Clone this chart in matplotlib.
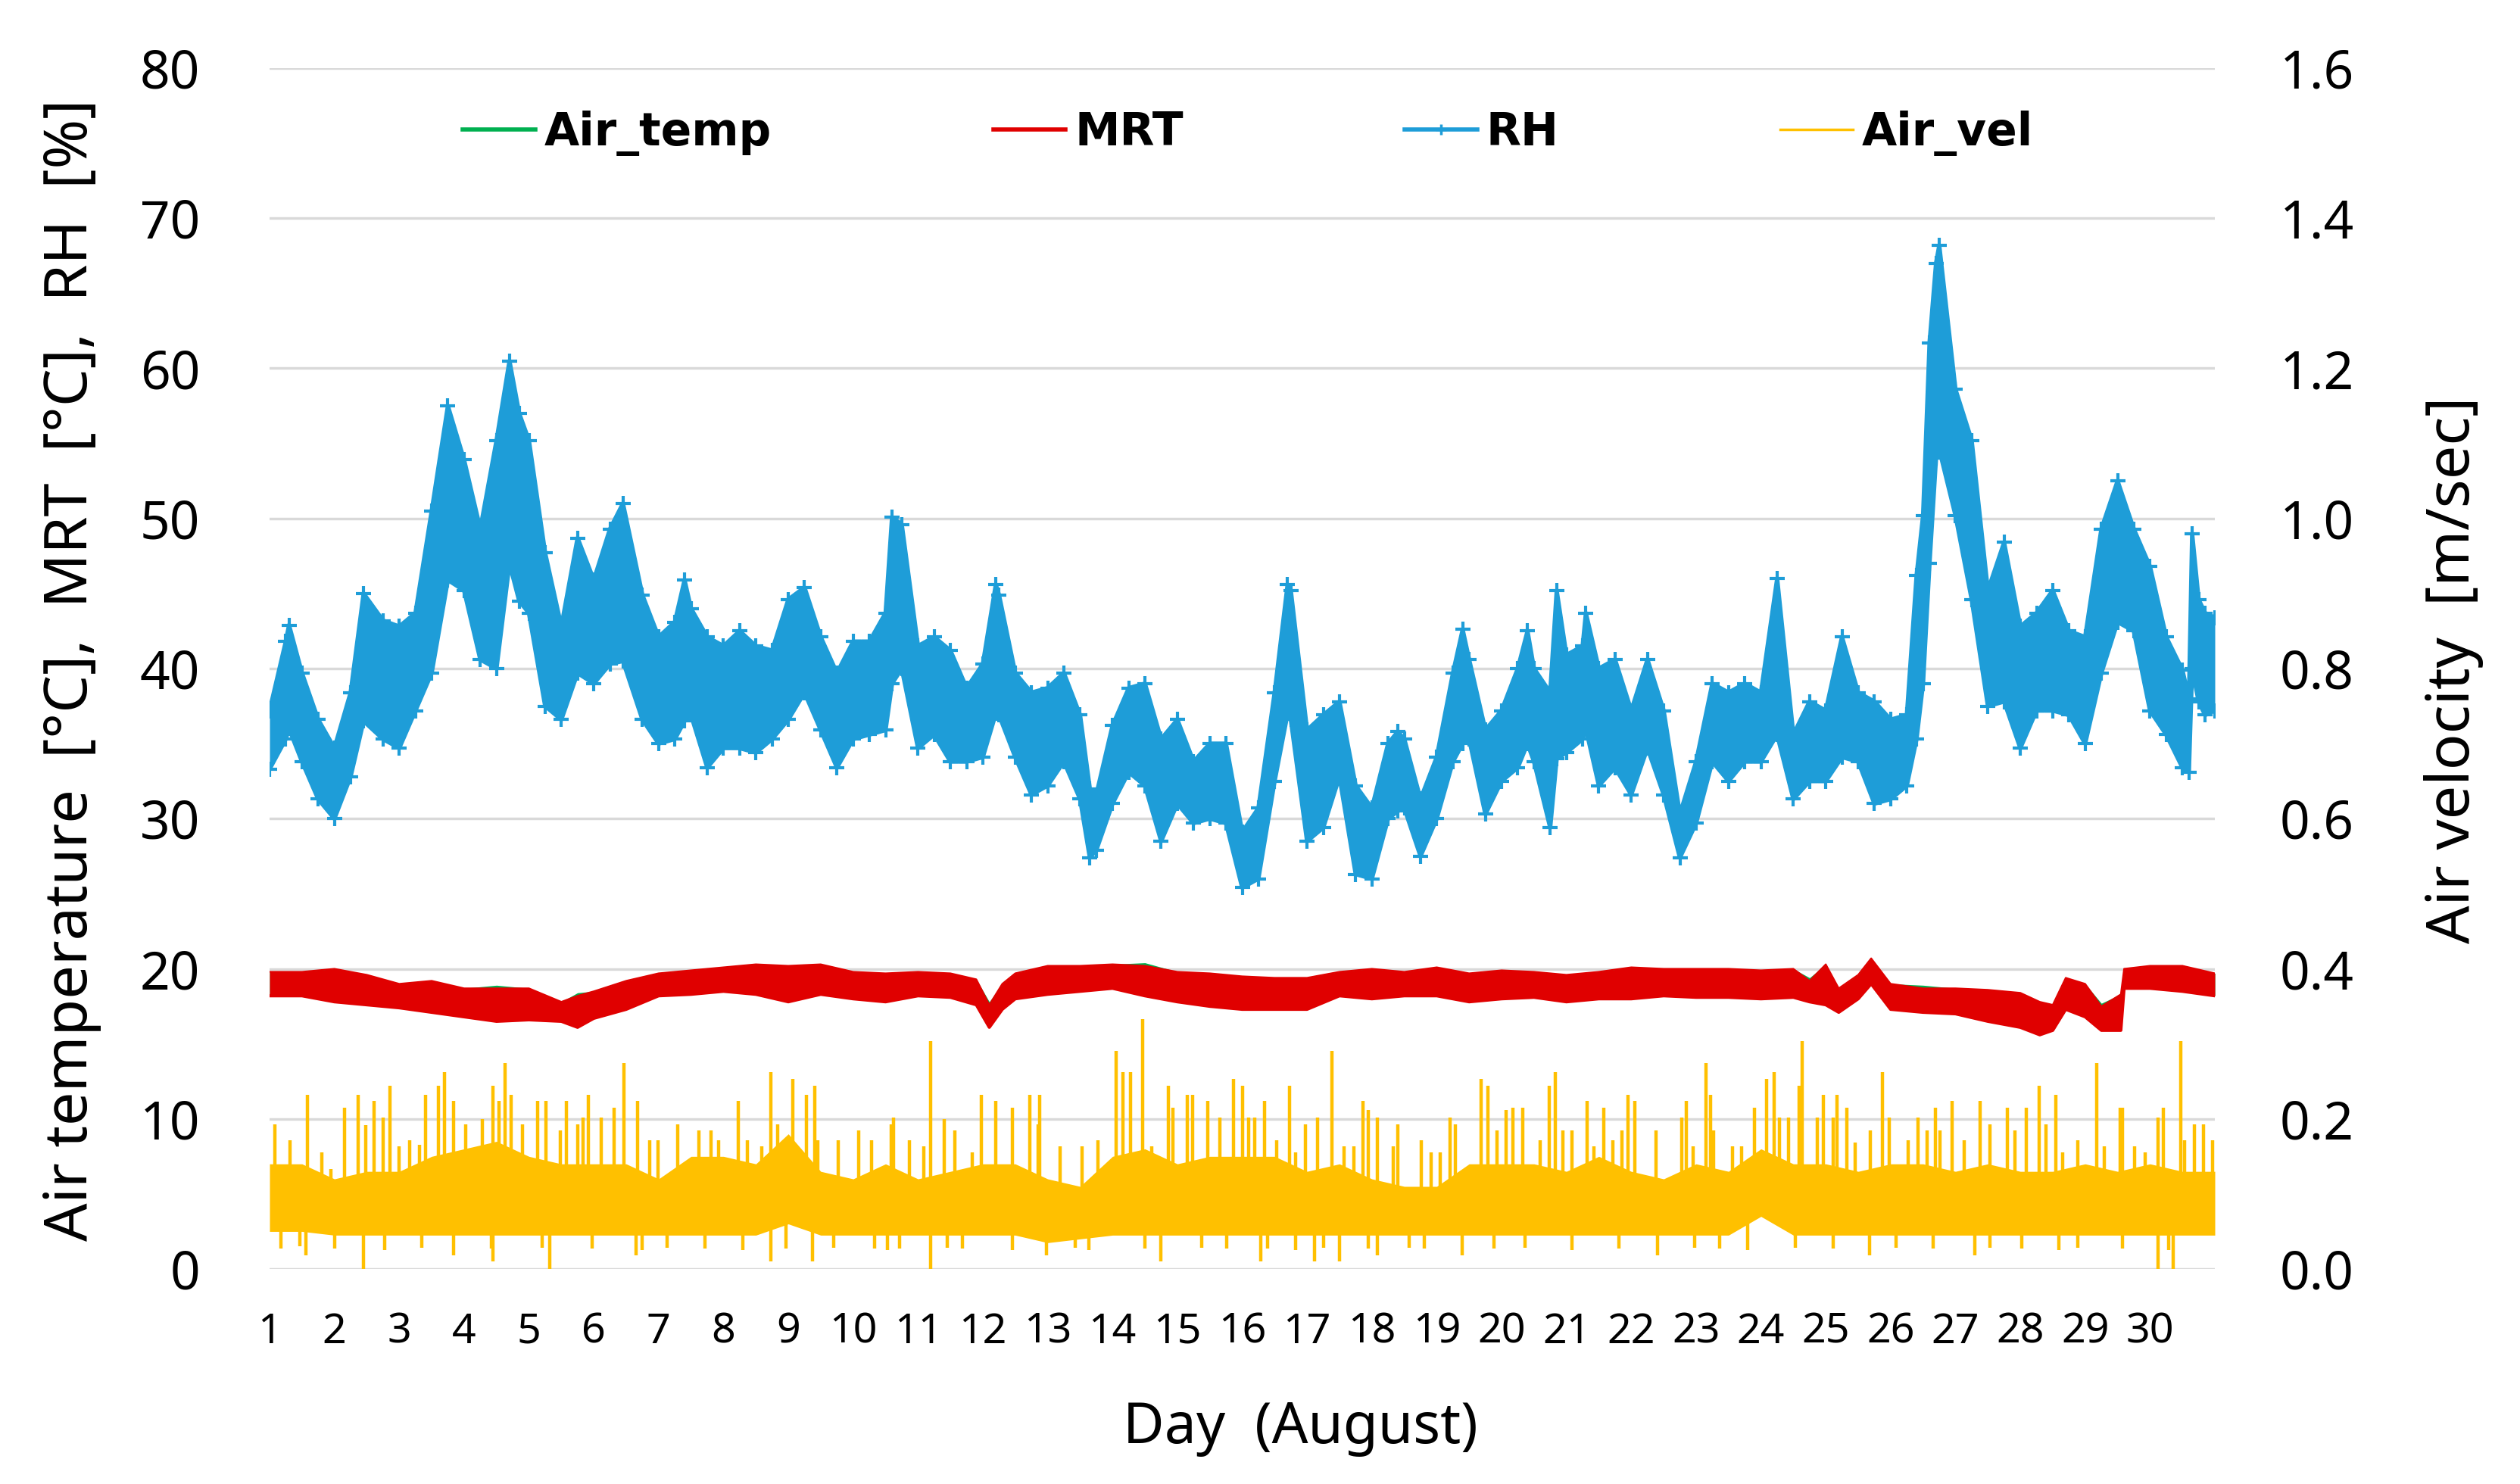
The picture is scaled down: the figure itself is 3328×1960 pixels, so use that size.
import numpy as np
import matplotlib
matplotlib.use('Agg')
import matplotlib.pyplot as plt
from matplotlib.lines import Line2D

# 색상 (Excel 기본 팔레트 비슷하게)
C_TEMP = '#00B050'
C_MRT = '#E00000'
C_RH = '#1E9DD8'
C_VEL = '#FFC000'
C_GRID = '#D9D9D9'

# ---- RH [%] : 상단/하단 포락선 ----
rh_day = [1.0, 1.25, 1.3, 1.5, 1.75, 2.0, 2.25, 2.45, 2.75, 3.0, 3.25, 3.5, 3.75, 4.0,
          4.25, 4.5, 4.7, 4.85, 5.0, 5.25, 5.5, 5.75, 6.0, 6.25, 6.45, 6.75, 7.0, 7.25,
          7.4, 7.5, 7.75, 8.0, 8.25, 8.5, 8.75, 9.0, 9.25, 9.5, 9.75, 10.0, 10.25, 10.5,
          10.6, 10.75, 11.0, 11.25, 11.5, 11.75, 12.0, 12.2, 12.25, 12.5, 12.75, 13.0,
          13.25, 13.5, 13.65, 13.75, 14.0, 14.25, 14.5, 14.75, 15.0, 15.25, 15.5, 15.75,
          16.0, 16.25, 16.5, 16.7, 16.75, 17.0, 17.25, 17.5, 17.75, 18.0, 18.25, 18.4,
          18.5, 18.75, 19.0, 19.25, 19.4, 19.5, 19.75, 20.0, 20.25, 20.4, 20.5, 20.75,
          20.85, 21.0, 21.25, 21.3, 21.5, 21.75, 22.0, 22.25, 22.5, 22.75, 23.0, 23.25,
          23.5, 23.75, 24.0, 24.25, 24.5, 24.75, 25.0, 25.25, 25.5, 25.75, 26.0, 26.25,
          26.4, 26.5, 26.6, 26.7, 26.75, 27.0, 27.25, 27.5, 27.75, 28.0, 28.25, 28.5,
          28.75, 29.0, 29.25, 29.5, 29.75, 30.0, 30.25, 30.5, 30.6, 30.65, 30.75, 30.85,
          31.0]
rh_hi = [37.2, 41.8, 42.9, 39.7, 36.6, 34.7, 38.4, 45.0, 43.2, 42.8, 43.7, 50.5, 57.5, 53.9,
         49.3, 55.2, 60.5, 57.0, 55.2, 47.7, 42.8, 48.7, 45.9, 49.3, 51.0, 44.9, 42.1, 43.1,
         45.9, 44.0, 42.1, 41.5, 42.5, 41.5, 41.2, 44.6, 45.4, 42.1, 39.7, 41.8, 41.8, 43.7,
         50.1, 49.6, 41.5, 42.1, 41.2, 38.7, 40.3, 45.6, 44.9, 39.7, 38.4, 38.7,
         39.7, 36.9, 32.0, 31.6, 36.2, 38.7, 39.0, 35.3, 36.6, 33.8, 35.0, 35.0,
         29.1, 30.7, 38.4, 45.6, 45.2, 35.9, 36.9, 37.8, 32.2, 30.7, 35.0, 35.8,
         35.3, 31.3, 34.1, 39.7, 42.6, 40.6, 35.9, 37.2, 40.0, 42.5, 40.0, 38.4,
         45.2, 40.9, 41.5, 43.7, 40.0, 40.6, 37.2, 40.6, 37.2, 30.3, 33.8, 39.0,
         38.4, 39.0, 38.4, 46.0, 35.6, 37.8, 37.2, 42.1, 38.4, 37.8, 36.6, 36.9,
         46.2, 50.2, 61.7, 67.0, 68.2, 58.6, 55.2, 45.2, 48.4, 42.8, 43.7, 45.2,
         42.5, 42.1, 49.3, 52.5, 49.3, 46.8, 42.1, 39.9, 38.0, 49.0, 44.6, 43.7,
         43.4]
rh_lo = [33.3, 35.3, 36.0, 33.8, 31.3, 30.0, 32.8, 36.5, 35.3, 34.7, 37.2, 39.7, 45.9, 45.2,
         40.6, 40.0, 47.0, 44.5, 43.7, 37.5, 36.6, 39.7, 39.0, 40.3, 40.5, 36.6, 35.0, 35.3,
         36.5, 36.9, 33.4, 34.7, 34.7, 34.4, 35.3, 36.6, 38.4, 35.9, 33.4, 35.3, 35.6, 35.9,
         39.0, 40.0, 34.7, 35.6, 33.8, 33.8, 34.1, 37.0, 36.9, 34.1, 31.6, 32.2,
         33.8, 31.3, 27.4, 27.9, 31.0, 33.1, 32.2, 28.5, 31.0, 29.7, 30.0, 29.7,
         25.4, 26.0, 32.5, 37.0, 36.6, 28.5, 29.4, 32.8, 26.3, 26.0, 30.0, 30.5,
         30.7, 27.5, 30.0, 33.8, 35.0, 35.3, 30.3, 32.5, 33.4, 35.0, 33.8, 29.4,
         34.0, 34.4, 35.3, 36.0, 32.2, 33.4, 31.6, 34.7, 31.6, 27.4, 29.7, 33.8,
         32.5, 33.8, 33.8, 35.6, 31.3, 32.5, 32.5, 34.1, 33.8, 31.0, 31.3, 32.2,
         35.3, 39.0, 47.0, 54.0, 54.6, 50.2, 44.6, 37.5, 37.8, 34.7, 37.2, 37.2,
         36.9, 35.0, 39.7, 43.1, 42.5, 37.2, 35.6, 33.4, 33.1, 40.0, 37.8, 36.9,
         37.2]

# ---- MRT / Air_temp [°C] ----
mrt_day = [1.0, 1.5, 2.0, 2.5, 3.0, 3.5, 4.0, 4.5, 5.0, 5.5, 5.75, 6.0, 6.5, 7.0, 7.5, 8.0,
           8.5, 9.0, 9.5, 10.0, 10.5, 11.0, 11.5, 11.9, 12.1, 12.3, 12.5, 13.0, 13.5, 14.0,
           14.5, 15.0, 15.5, 16.0, 16.5, 17.0, 17.5, 18.0, 18.5, 19.0, 19.5, 20.0, 20.5,
           21.0, 21.5, 22.0, 22.5, 23.0, 23.5, 24.0, 24.5, 24.75, 25.0, 25.2, 25.5, 25.7,
           26.0, 26.5, 27.0, 27.5, 28.0, 28.3, 28.5, 28.7, 29.0, 29.25, 29.55, 29.6, 30.0,
           30.5, 31.0]
mrt_hi = [19.8, 19.8, 20.0, 19.6, 19.0, 19.2, 18.7, 18.7, 18.7, 17.8, 18.2, 18.5, 19.2, 19.7,
          19.9, 20.1, 20.3, 20.2, 20.3, 19.8, 19.7, 19.8, 19.7, 19.3, 17.6, 19.0, 19.7, 20.2,
          20.2, 20.3, 20.2, 19.8, 19.7, 19.5, 19.4, 19.4, 19.8, 20.0, 19.8, 20.1, 19.7,
          19.9, 19.8, 19.6, 19.8, 20.1, 20.0, 20.0, 20.0, 19.9, 20.0, 19.2, 20.3, 18.7,
          19.6, 20.7, 19.0, 18.7, 18.7, 18.6, 18.4, 17.8, 17.6, 19.4, 19.0, 17.5, 18.3,
          20.0, 20.2, 20.2, 19.7]
mrt_lo = [18.2, 18.2, 17.8, 17.6, 17.4, 17.1, 16.8, 16.5, 16.6, 16.5, 16.1, 16.7, 17.3, 18.2,
          18.3, 18.5, 18.3, 17.8, 18.3, 18.0, 17.8, 18.2, 18.1, 17.6, 16.1, 17.3, 18.0, 18.3,
          18.5, 18.7, 18.2, 17.8, 17.5, 17.3, 17.3, 17.3, 18.2, 18.0, 18.2, 18.2, 17.8,
          18.0, 18.1, 17.8, 18.0, 18.0, 18.2, 18.1, 18.1, 18.0, 18.1, 17.8, 17.6, 17.1,
          18.0, 19.0, 17.3, 17.1, 17.0, 16.5, 16.1, 15.6, 15.9, 17.3, 16.8, 15.9, 15.9,
          18.7, 18.7, 18.5, 18.2]
# 기온은 MRT와 거의 겹침 - 몇 군데만 살짝 위로 보임
temp_hi = [19.8, 19.8, 20.0, 19.6, 19.0, 19.2, 18.7, 18.9, 18.7, 17.8, 18.4, 18.5, 19.2, 19.7,
           19.9, 20.1, 20.3, 20.2, 20.3, 19.8, 19.7, 19.8, 19.7, 19.3, 17.8, 19.0, 19.7, 20.2,
           20.2, 20.3, 20.4, 19.8, 19.7, 19.5, 19.4, 19.4, 19.8, 20.0, 19.8, 20.1, 19.7,
           19.9, 19.8, 19.6, 19.8, 20.1, 20.0, 20.0, 20.0, 19.9, 20.0, 19.4, 20.3, 18.7,
           19.6, 20.7, 19.0, 18.9, 18.7, 18.6, 18.4, 17.8, 17.6, 19.4, 19.0, 17.7, 18.3,
           20.0, 20.2, 20.2, 19.7]
temp_lo = mrt_lo

# ---- Air_vel [m/sec] : 본체 범위 + 튀는 값 ----
vel_day = [1.0, 1.5, 2.0, 2.5, 3.0, 3.5, 4.0, 4.5, 5.0, 5.5, 6.0, 6.5, 7.0, 7.5, 8.0, 8.5,
           9.0, 9.5, 10.0, 10.5, 11.0, 11.5, 12.0, 12.5, 13.0, 13.5, 14.0, 14.5, 15.0, 15.5,
           16.0, 16.5, 17.0, 17.5, 18.0, 18.5, 19.0, 19.5, 20.0, 20.5, 21.0, 21.5, 22.0,
           22.5, 23.0, 23.5, 24.0, 24.5, 25.0, 25.5, 26.0, 26.5, 27.0, 27.5, 28.0, 28.5,
           29.0, 29.5, 30.0, 30.5, 31.0]
vel_hi = [0.14, 0.14, 0.12, 0.13, 0.13, 0.15, 0.16, 0.17, 0.15, 0.14, 0.14, 0.14, 0.12, 0.15,
          0.15, 0.14, 0.18, 0.13, 0.12, 0.14, 0.12, 0.13, 0.14, 0.14, 0.12, 0.11, 0.15, 0.16,
          0.14, 0.15, 0.15, 0.15, 0.13, 0.14, 0.12, 0.11, 0.11, 0.14, 0.14, 0.14, 0.13, 0.15,
          0.13, 0.12, 0.14, 0.13, 0.16, 0.14, 0.14, 0.13, 0.14, 0.14, 0.13, 0.14, 0.13, 0.13,
          0.14, 0.13, 0.14, 0.13, 0.13]
vel_lo = [0.05, 0.05, 0.045, 0.045, 0.045, 0.045, 0.045, 0.045, 0.045, 0.045, 0.045, 0.045,
          0.045, 0.045, 0.045, 0.045, 0.06, 0.045, 0.045, 0.045, 0.045, 0.045, 0.045, 0.045,
          0.035, 0.04, 0.045, 0.045, 0.045, 0.045, 0.045, 0.045, 0.045, 0.045, 0.045, 0.045,
          0.045, 0.045, 0.045, 0.045, 0.045, 0.045, 0.045, 0.045, 0.045, 0.045, 0.07, 0.045,
          0.045, 0.045, 0.045, 0.045, 0.045, 0.045, 0.045, 0.045, 0.045, 0.045, 0.045, 0.045,
          0.045]

peak_day = [1.08, 1.32, 1.58, 1.80, 1.95, 2.16, 2.37, 2.48, 2.61, 2.75, 2.86, 3.00, 3.16, 3.31,
            3.40, 3.60, 3.70, 3.84, 4.03, 4.28, 4.44, 4.54, 4.63, 4.73, 4.90, 5.13, 5.26, 5.49,
            5.58, 5.75, 5.84, 5.92, 6.12, 6.31, 6.47, 6.68, 6.86, 6.99, 7.30, 7.62, 7.81, 7.93,
            8.23, 8.37, 8.59, 8.73, 8.83, 9.07, 9.28, 9.41, 9.46, 9.77, 10.09, 10.28, 10.59,
            10.62, 10.87, 11.09, 11.20, 11.40, 11.57, 11.84, 11.98, 12.20, 12.46, 12.73, 12.85,
            12.88, 13.19, 13.53, 13.78, 14.06, 14.16, 14.28, 14.46, 14.60, 14.86, 14.93, 15.15,
            15.23, 15.47, 15.66, 15.86, 16.0, 16.10, 16.19, 16.34, 16.53, 16.73, 16.82, 16.97,
            17.16, 17.38, 17.57, 17.72, 17.86, 17.94, 18.08, 18.33, 18.40, 18.76, 18.91, 19.05,
            19.20, 19.29, 19.69, 19.79, 19.93, 20.07, 20.18, 20.33, 20.60, 20.73, 20.83, 20.94,
            21.09, 21.32, 21.43, 21.58, 21.72, 21.86, 21.95, 22.06, 22.38, 22.78, 22.85, 22.95,
            23.15, 23.22, 23.27, 23.56, 23.70, 23.90, 24.09, 24.20, 24.29, 24.43, 24.59, 24.63,
            24.87, 24.96, 25.11, 25.17, 25.33, 25.45, 25.69, 25.87, 25.98, 26.27, 26.42, 26.56,
            26.69, 26.76, 26.95, 27.14, 27.38, 27.53, 27.80, 27.92, 28.09, 28.29, 28.40, 28.55,
            28.65, 28.89, 29.18, 29.30, 29.54, 29.57, 29.76, 29.93, 30.13, 30.21, 30.47, 30.53,
            30.68, 30.83, 30.97]
peak_vel = [0.193, 0.171, 0.232, 0.155, 0.133, 0.215, 0.232, 0.192, 0.224, 0.202, 0.244, 0.163,
            0.171, 0.165, 0.232, 0.244, 0.262, 0.224, 0.193, 0.200, 0.244, 0.224, 0.274, 0.232,
            0.193, 0.224, 0.224, 0.185, 0.224, 0.193, 0.202, 0.232, 0.202, 0.215, 0.274, 0.224,
            0.171, 0.171, 0.193, 0.185, 0.185, 0.171, 0.224, 0.171, 0.163, 0.262, 0.193, 0.253,
            0.232, 0.244, 0.171, 0.171, 0.185, 0.171, 0.193, 0.202, 0.171, 0.163, 0.304, 0.200,
            0.185, 0.155, 0.232, 0.224, 0.215, 0.232, 0.193, 0.232, 0.163, 0.163, 0.171, 0.291,
            0.262, 0.262, 0.333, 0.163, 0.244, 0.215, 0.232, 0.232, 0.224, 0.202, 0.253, 0.244,
            0.202, 0.202, 0.224, 0.171, 0.244, 0.155, 0.193, 0.202, 0.291, 0.163, 0.163, 0.224,
            0.212, 0.202, 0.163, 0.193, 0.171, 0.155, 0.155, 0.202, 0.193, 0.253, 0.244, 0.185,
            0.212, 0.215, 0.215, 0.171, 0.244, 0.262, 0.185, 0.185, 0.224, 0.163, 0.215, 0.171,
            0.185, 0.232, 0.224, 0.185, 0.202, 0.224, 0.163, 0.274, 0.232, 0.185, 0.163, 0.163,
            0.215, 0.253, 0.262, 0.202, 0.202, 0.244, 0.304, 0.202, 0.232, 0.202, 0.232, 0.215,
            0.168, 0.185, 0.262, 0.202, 0.171, 0.202, 0.185, 0.215, 0.185, 0.224, 0.171, 0.224,
            0.193, 0.215, 0.185, 0.215, 0.244, 0.193, 0.232, 0.155, 0.171, 0.274, 0.163, 0.215,
            0.215, 0.163, 0.155, 0.202, 0.215, 0.304, 0.171, 0.193, 0.193, 0.171]
dip_day = [1.17, 1.47, 1.56, 2.0, 2.45, 2.77, 3.35, 3.84, 4.42, 4.44, 5.20, 5.32, 5.97, 6.65,
           6.75, 7.13, 7.72, 8.30, 8.73, 8.97, 9.37, 9.70, 10.33, 10.53, 10.72, 11.2, 11.45,
           11.69, 12.46, 12.98, 13.43, 13.63, 14.50, 14.74, 15.37, 15.76, 16.29, 16.39, 16.82,
           17.11, 17.26, 17.50, 17.94, 18.08, 18.57, 18.81, 19.39, 19.88, 20.36, 21.09, 21.81,
           22.41, 22.98, 23.36, 23.80, 24.53, 25.11, 25.67, 26.08, 26.66, 27.30, 27.53, 28.02,
           28.60, 28.89, 29.57, 30.12, 30.29, 30.36]
dip_vel = [0.027, 0.030, 0.018, 0.027, 0.0, 0.025, 0.028, 0.018, 0.027, 0.010, 0.028, 0.0,
           0.027, 0.018, 0.025, 0.028, 0.027, 0.025, 0.010, 0.027, 0.010, 0.028, 0.027, 0.025,
           0.027, 0.0, 0.028, 0.027, 0.025, 0.018, 0.028, 0.025, 0.027, 0.010, 0.028, 0.027,
           0.010, 0.027, 0.025, 0.010, 0.028, 0.010, 0.027, 0.018, 0.028, 0.027, 0.018, 0.027,
           0.028, 0.025, 0.027, 0.018, 0.028, 0.027, 0.025, 0.028, 0.027, 0.018, 0.028, 0.027,
           0.018, 0.028, 0.027, 0.025, 0.028, 0.027, 0.0, 0.025, 0.0]

day_ticks = list(range(1, 31))
left_ticks = list(range(0, 81, 10))
right_ticks = [0.0, 0.2, 0.4, 0.6, 0.8, 1.0, 1.2, 1.4, 1.6]

W, H = 3328, 1960
fig = plt.figure(figsize=(W / 100, H / 100), dpi=100)
ax = fig.add_axes([356 / W, 1 - 1676 / H, (2925 - 356) / W, (1676 - 90) / H])
ax2 = ax.twinx()

# 좌측 축: 기온, MRT, RH
ax.fill_between(mrt_day, temp_lo, temp_hi, color=C_TEMP, lw=0, zorder=2)
ax.fill_between(mrt_day, mrt_lo, mrt_hi, color=C_MRT, lw=0, zorder=3)
ax.plot(mrt_day, mrt_lo, color=C_MRT, lw=3, zorder=3)
ax.plot(mrt_day, mrt_hi, color=C_MRT, lw=1.5, zorder=3)

ax.fill_between(rh_day, rh_lo, rh_hi, color=C_RH, lw=0, zorder=2)
for env in (rh_hi, rh_lo):
    ax.plot(rh_day, env, color=C_RH, lw=4, marker='+', ms=15, mew=3, zorder=2)

# 우측 축: 풍속
ax2.fill_between(vel_day, vel_lo, vel_hi, color=C_VEL, lw=0)
ax2.vlines(peak_day, 0.07, peak_vel, color=C_VEL, lw=3.2)
ax2.vlines(dip_day, 0.07, dip_vel, color=C_VEL, lw=3.2)

ax.set_xlim(1, 31)
ax.set_ylim(0, 80)
ax2.set_ylim(0, 1.6)
ax.set_xticks(day_ticks)
ax.set_yticks(left_ticks)
ax2.set_yticks(right_ticks)
ax2.set_yticklabels([f'{v:.1f}' for v in right_ticks])

ax.grid(axis='y', color=C_GRID, lw=2.5)
ax.set_axisbelow(True)
for a in (ax, ax2):
    for s in a.spines.values():
        s.set_visible(False)

ax.tick_params(axis='y', length=0, pad=66, labelsize=50)
ax.tick_params(axis='x', length=0, pad=40, labelsize=40)
ax2.tick_params(axis='y', length=0, pad=62, labelsize=50)
for lab in ax.get_xticklabels() + ax.get_yticklabels() + ax2.get_yticklabels():
    lab.set_family('Noto Sans')

fig.text(95 / W, 1 - 885 / H, 'Air temperature  [°C],  MRT  [°C],  RH  [%]',
         rotation=90, ha='center', va='center', fontsize=57, family='Noto Sans')
fig.text(3240 / W, 1 - 885 / H, 'Air velocity  [m/sec]',
         rotation=90, ha='center', va='center', fontsize=57, family='Noto Sans')
fig.text(1717 / W, 1 - 1886 / H, 'Day  (August)',
         ha='center', va='center', fontsize=54, family='Noto Sans')

# 범례
handles = [Line2D([], [], color=C_TEMP, lw=4),
           Line2D([], [], color=C_MRT, lw=4),
           Line2D([], [], color=C_RH, lw=4, marker='+', ms=10, mew=2.5),
           Line2D([], [], color=C_VEL, lw=2.5)]
ax2.legend(handles, ['Air_temp', 'MRT', 'RH', 'Air_vel'], loc='center',
           bbox_to_anchor=(0.503, 0.946), ncol=4, frameon=False,
           prop=dict(family='DejaVu Sans', weight='bold', size=43),
           handlelength=1.6, handletextpad=0.2, columnspacing=4.9)

fig.savefig('out.png', dpi=100, facecolor='white')
